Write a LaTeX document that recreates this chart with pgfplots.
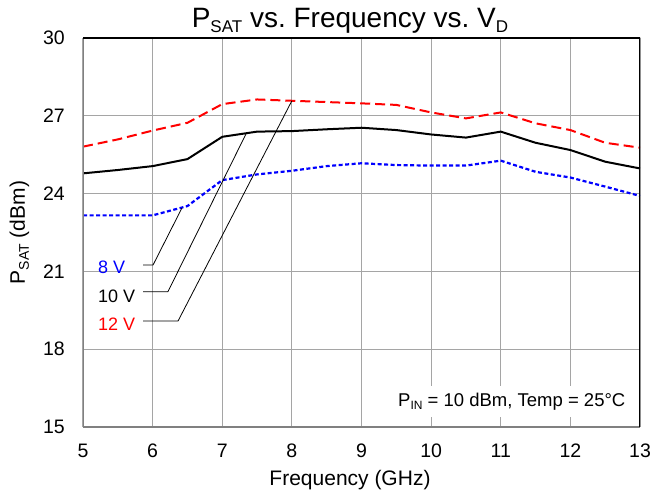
\documentclass[border=0pt]{standalone}
\usepackage{fontspec}
\setmainfont{Liberation Sans}
\usepackage{pgfplots}
\pgfplotsset{compat=1.18}
\definecolor{gridgray}{RGB}{165,165,165}
\definecolor{axgray}{RGB}{128,128,128}
\frenchspacing
\begin{document}
\frenchspacing
\begin{tikzpicture}
\path[use as bounding box] (-83pt,-66pt) rectangle (569pt,427pt);
\begin{axis}[
  at={(0,0)}, anchor=south west,
  scale only axis, width=557pt, height=389pt,
  xmin=5, xmax=13, ymin=15, ymax=30,
  xtick={5,6,...,13}, ytick={15,18,...,30},
  grid=major, grid style={gridgray, line width=1.2pt},
  major tick length=0pt,
  axis line style={draw=none},
  /pgf/number format/assume math mode=true,
  tick label style={font=\fontsize{19.5}{19.5}\selectfont, inner sep=0pt},
  yticklabel style={anchor=east, xshift=-18pt},
  xticklabel style={anchor=north, yshift=-17pt},
  clip=true,
]
\addplot[red, line width=2pt, dash pattern=on 10pt off 5pt] coordinates {
(5,25.81)(5.5,26.09)(6,26.43)(6.5,26.73)(7,27.45)(7.5,27.63)(8,27.58)(8.5,27.53)(9,27.48)(9.5,27.42)(10,27.13)(10.5,26.90)(11,27.13)(11.5,26.71)(12,26.45)(12.5,25.96)(13,25.77)};
\addplot[black, line width=2pt] coordinates {
(5,24.78)(5.5,24.91)(6,25.06)(6.5,25.33)(7,26.19)(7.5,26.39)(8,26.41)(8.5,26.48)(9,26.54)(9.5,26.45)(10,26.28)(10.5,26.16)(11,26.39)(11.5,25.96)(12,25.68)(12.5,25.23)(13,24.97)};
\addplot[blue, line width=2.2pt, dash pattern=on 4pt off 2.5pt] coordinates {
(5,23.16)(5.5,23.16)(6,23.16)(6.5,23.52)(7,24.52)(7.5,24.74)(8,24.88)(8.5,25.06)(9,25.17)(9.5,25.10)(10,25.08)(10.5,25.08)(11,25.27)(11.5,24.84)(12,24.62)(12.5,24.27)(13,23.91)};
% leader lines
\draw[black, line width=0.8pt] (axis cs:5.862,21.247) -- (axis cs:6.006,21.247) -- (axis cs:6.42,23.44);
\draw[black, line width=0.8pt] (axis cs:5.862,20.217) -- (axis cs:6.22,20.217) -- (axis cs:7.35,26.35);
\draw[black, line width=0.8pt] (axis cs:5.862,19.087) -- (axis cs:6.365,19.087) -- (axis cs:8.0,27.58);
% frame
\draw[axgray, line width=2pt] (rel axis cs:0,1) -- (rel axis cs:0,0) -- (rel axis cs:1,0);
\draw[black, line width=2pt] (rel axis cs:0,1) -- (rel axis cs:1,1) -- (rel axis cs:1,0);
\end{axis}
% title
\node[anchor=base, inner sep=0pt, font=\fontsize{28}{28}\selectfont] at (267pt,399pt)
  {P\raisebox{-5pt}{\fontsize{17}{17}\selectfont SAT} vs.\ Frequency vs.\ V\raisebox{-5pt}{\fontsize{17}{17}\selectfont D}};
% x label
\node[anchor=base, inner sep=0pt, font=\fontsize{21}{21}\selectfont] at (267pt,-58pt) {Frequency (GHz)};
% y label
\node[anchor=base, rotate=90, inner sep=0pt, font=\fontsize{21}{21}\selectfont] at (-58pt,194.5pt)
  {P\raisebox{-4pt}{\fontsize{14}{14}\selectfont SAT} (dBm)};
% series labels
\node[anchor=base west, inner sep=0pt, text=blue, font=\fontsize{18}{18}\selectfont] at (15pt,154pt) {8 V};
\node[anchor=base west, inner sep=0pt, text=black, font=\fontsize{18}{18}\selectfont] at (15pt,125pt) {10 V};
\node[anchor=base west, inner sep=0pt, text=red, font=\fontsize{18}{18}\selectfont] at (15pt,97pt) {12 V};
% conditions
\node[anchor=base west, fill=white, inner xsep=6pt, inner ysep=7pt, font=\fontsize{18.5}{18.5}\selectfont] at (309pt,21pt)
  {P\raisebox{-3pt}{\fontsize{12}{12}\selectfont IN} = 10 dBm,\ Temp = 25\textdegree C};
\end{tikzpicture}
\end{document}
